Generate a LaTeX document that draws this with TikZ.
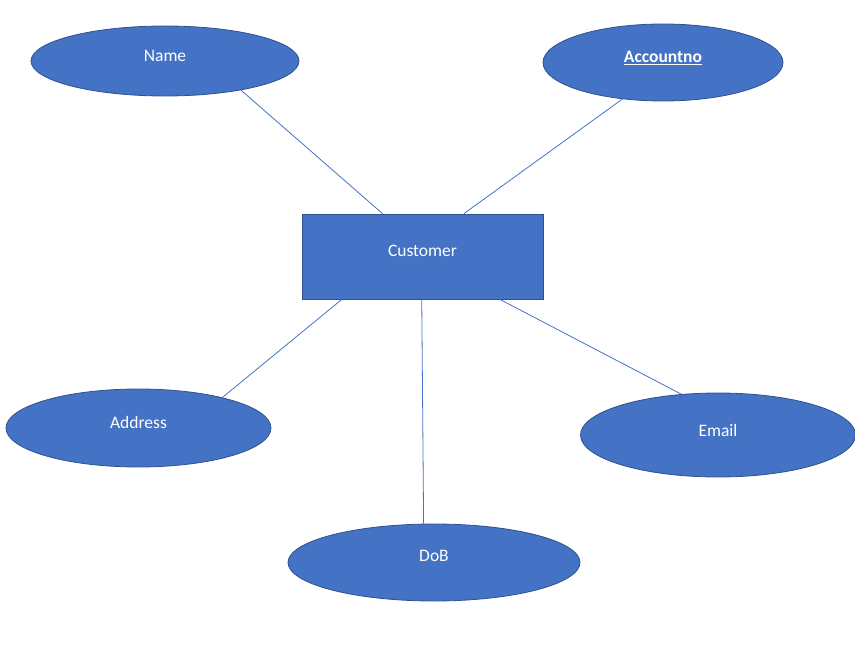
\documentclass[tikz,border=0pt]{standalone}
\usepackage{fontspec}
\setmainfont{Carlito}
\definecolor{azul}{HTML}{4472C4}
\definecolor{borde}{HTML}{2F528F}
\tikzset{
  atributo/.style={ellipse, draw=borde, fill=azul, line width=0.8pt, inner sep=0pt,
    minimum width=#1},
  entidad/.style={rectangle, draw=borde, fill=azul, line width=0.8pt,
    minimum width=241pt, minimum height=85pt},
  texto/.style={text=white, font=\fontsize{17.5}{20}\selectfont},
  enlace/.style={draw=azul, line width=0.8pt}
}
\usetikzlibrary{shapes.geometric}
\begin{document}
\begin{tikzpicture}[x=1pt,y=-1pt]

      % Marco
      \useasboundingbox (0,0) rectangle (855,671);

      % Entidad
      \node[entidad] (cust) at (422.5,256.5) {};
      \node[texto] (custtxt) at (422.5,251) {Customer};

      % Atributos
      \node[atributo=268pt, minimum height=70pt] (name) at (165,61) {};
      \node[texto] (nametxt) at (165,56) {Name};
      \node[atributo=240pt, minimum height=77pt] (acct) at (663,62.5) {};
      \node[texto, font=\fontsize{17.5}{20}\selectfont\bfseries] (accttxt) at (663,58) {\underline{Accountno}};
      \node[atributo=265pt, minimum height=78pt] (addr) at (138.5,428) {};
      \node[texto] (addrtxt) at (138.5,422) {Address};
      \node[atributo=275pt, minimum height=84pt] (mail) at (718,435) {};
      \node[texto] (mailtxt) at (718,430) {Email};
      \node[atributo=292pt, minimum height=77pt] (dob) at (434,562.5) {};
      \node[texto] (dobtxt) at (434,556) {DoB};

      % Enlaces
      \draw[enlace] (name.-21) -- (cust.133);
      \draw[enlace] (acct.-138) -- (cust.46);
      \draw[enlace] (addr.20) -- (cust.-152);
      \draw[enlace] (dob.105) -- (cust.-91);
      \draw[enlace] (mail.132) -- (cust.-29);

    \end{tikzpicture}
\end{document}
